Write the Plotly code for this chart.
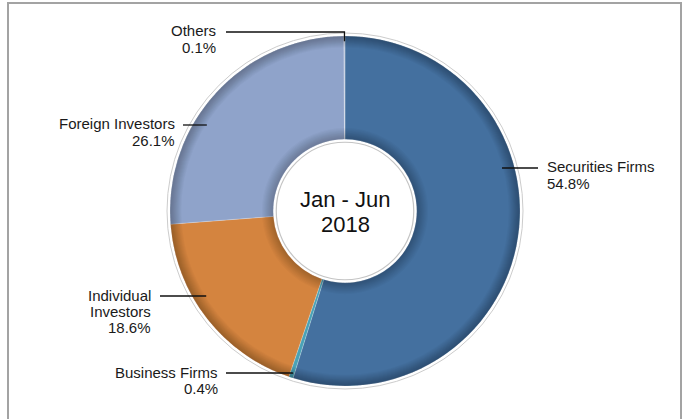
import math
import plotly.graph_objects as go

# Shares of trading value by investor type, Jan - Jun 2018 (%)
categories = ["Securities Firms", "Business Firms", "Individual Investors", "Foreign Investors", "Others"]
shares = [54.8, 0.4, 18.6, 26.1, 0.1]
colors = ["#44709F", "#4AA2B6", "#D4843F", "#8FA3CA", "#B8C4DA"]
center_title = ["Jan - Jun", "2018"]

W, H = 689, 419
CX, CY, R = 345, 211, 175          # pie centre and radius in pixels
HOLE = 0.41
FONT = "Liberation Sans, Arial, sans-serif"


def px(x):
    return x / W


def py(y):
    return 1 - y / H


def ring_domain(r):
    return dict(x=[px(CX - r), px(CX + r)], y=[py(CY + r), py(CY - r)])


fig = go.Figure()

fig.add_trace(go.Pie(
    labels=categories, values=shares, sort=False, direction="clockwise", rotation=0,
    hole=HOLE, domain=ring_domain(R),
    marker=dict(colors=colors, line=dict(color="rgba(255,255,255,0.35)", width=0.6)),
    textinfo="none", hoverinfo="label+percent", showlegend=False,
))

# soft bevel toward the outer rim: many thin translucent bands
n_out = 12
for k in range(n_out):
    frac = 0.935 + 0.065 * k / n_out
    fig.add_trace(go.Pie(
        values=[1], hole=frac, sort=False, domain=ring_domain(R),
        marker=dict(colors=["rgba(0,0,0,0.025)"], line=dict(width=0)),
        textinfo="none", hoverinfo="skip", showlegend=False,
    ))

# soft bevel next to the hole
n_in = 10
for k in range(n_in):
    outer = HOLE + 0.065 * (1 - k / n_in)
    r_out = R * outer
    fig.add_trace(go.Pie(
        values=[1], hole=HOLE / outer, sort=False, domain=ring_domain(r_out),
        marker=dict(colors=["rgba(0,0,0,0.025)"], line=dict(width=0)),
        textinfo="none", hoverinfo="skip", showlegend=False,
    ))

shapes = []
annotations = []

# frame around the chart area
shapes.append(dict(type="rect", xref="paper", yref="paper",
                   x0=px(8), x1=px(681), y0=py(440), y1=py(3),
                   line=dict(color="#A3A3A3", width=2), fillcolor="rgba(0,0,0,0)"))

# faint outline just outside the ring
ro = R + 3
shapes.append(dict(type="circle", xref="paper", yref="paper", layer="below",
                   x0=px(CX - ro), x1=px(CX + ro), y0=py(CY + ro), y1=py(CY - ro),
                   line=dict(color="#CCCCCC", width=1), fillcolor="rgba(0,0,0,0)"))

# outlined centre disc
hr = R * HOLE - 3
shapes.append(dict(type="circle", xref="paper", yref="paper", layer="above",
                   x0=px(CX - hr), x1=px(CX + hr), y0=py(CY + hr), y1=py(CY - hr),
                   line=dict(color="#C4C4C4", width=1.2), fillcolor="white"))

for i, line in enumerate(center_title):
    annotations.append(dict(text=line, xref="paper", yref="paper", x=px(CX), y=py(200 + 24 * i),
                            xanchor="center", yanchor="middle", showarrow=False,
                            font=dict(size=22, color="#111111", family=FONT)))

# label placement: text anchor side, text edge x, leader line y, leader outer x
label_layout = {
    "Securities Firms": dict(side="left", tx=545, ly=168, lx=538, lines=["Securities Firms"]),
    "Business Firms": dict(side="right", tx=220, ly=373, lx=226, lines=["Business Firms"]),
    "Individual Investors": dict(side="right", tx=153, ly=296, lx=160, lines=["Individual", "Investors"]),
    "Foreign Investors": dict(side="right", tx=177, ly=125, lx=183, lines=["Foreign Investors"]),
    "Others": dict(side="right", tx=218, ly=32, lx=226, lines=["Others"]),
}

total = sum(shares)
start = 0.0
for cat, val in zip(categories, shares):
    mid = (start + val / 2) / total * 2 * math.pi
    start += val
    L = label_layout[cat]
    if val < 1:
        # small slice: point at slice middle near the rim, elbow leader
        ax = CX + 0.97 * R * math.sin(mid)
        ay = CY - 0.97 * R * math.cos(mid)
        path = f"M {px(L['lx'])},{py(L['ly'])} L {px(ax)},{py(L['ly'])} L {px(ax)},{py(ay)}"
    else:
        # large slice: horizontal leader ending inside the ring
        dy = L["ly"] - CY
        dx = math.sqrt((0.93 * R) ** 2 - dy ** 2)
        ax = CX + dx if math.sin(mid) > 0 else CX - dx
        path = f"M {px(L['lx'])},{py(L['ly'])} L {px(ax)},{py(L['ly'])}"
    shapes.append(dict(type="path", xref="paper", yref="paper", path=path, layer="above",
                       line=dict(color="#111111", width=1.3)))
    text_lines = L["lines"] + [f"{val:.1f}%"]
    for j, t in enumerate(text_lines):
        annotations.append(dict(
            text=t, xref="paper", yref="paper", x=px(L["tx"]), y=py(L["ly"] - 1 + 16 * j),
            xanchor="left" if L["side"] == "left" else "right", yanchor="middle", showarrow=False,
            font=dict(size=15, color="#1A1A1A", family=FONT),
        ))

fig.update_layout(
    width=W, height=H, margin=dict(l=0, r=0, t=0, b=0),
    paper_bgcolor="white", plot_bgcolor="white",
    shapes=shapes, annotations=annotations, showlegend=False,
)

fig.write_html("out.html")
